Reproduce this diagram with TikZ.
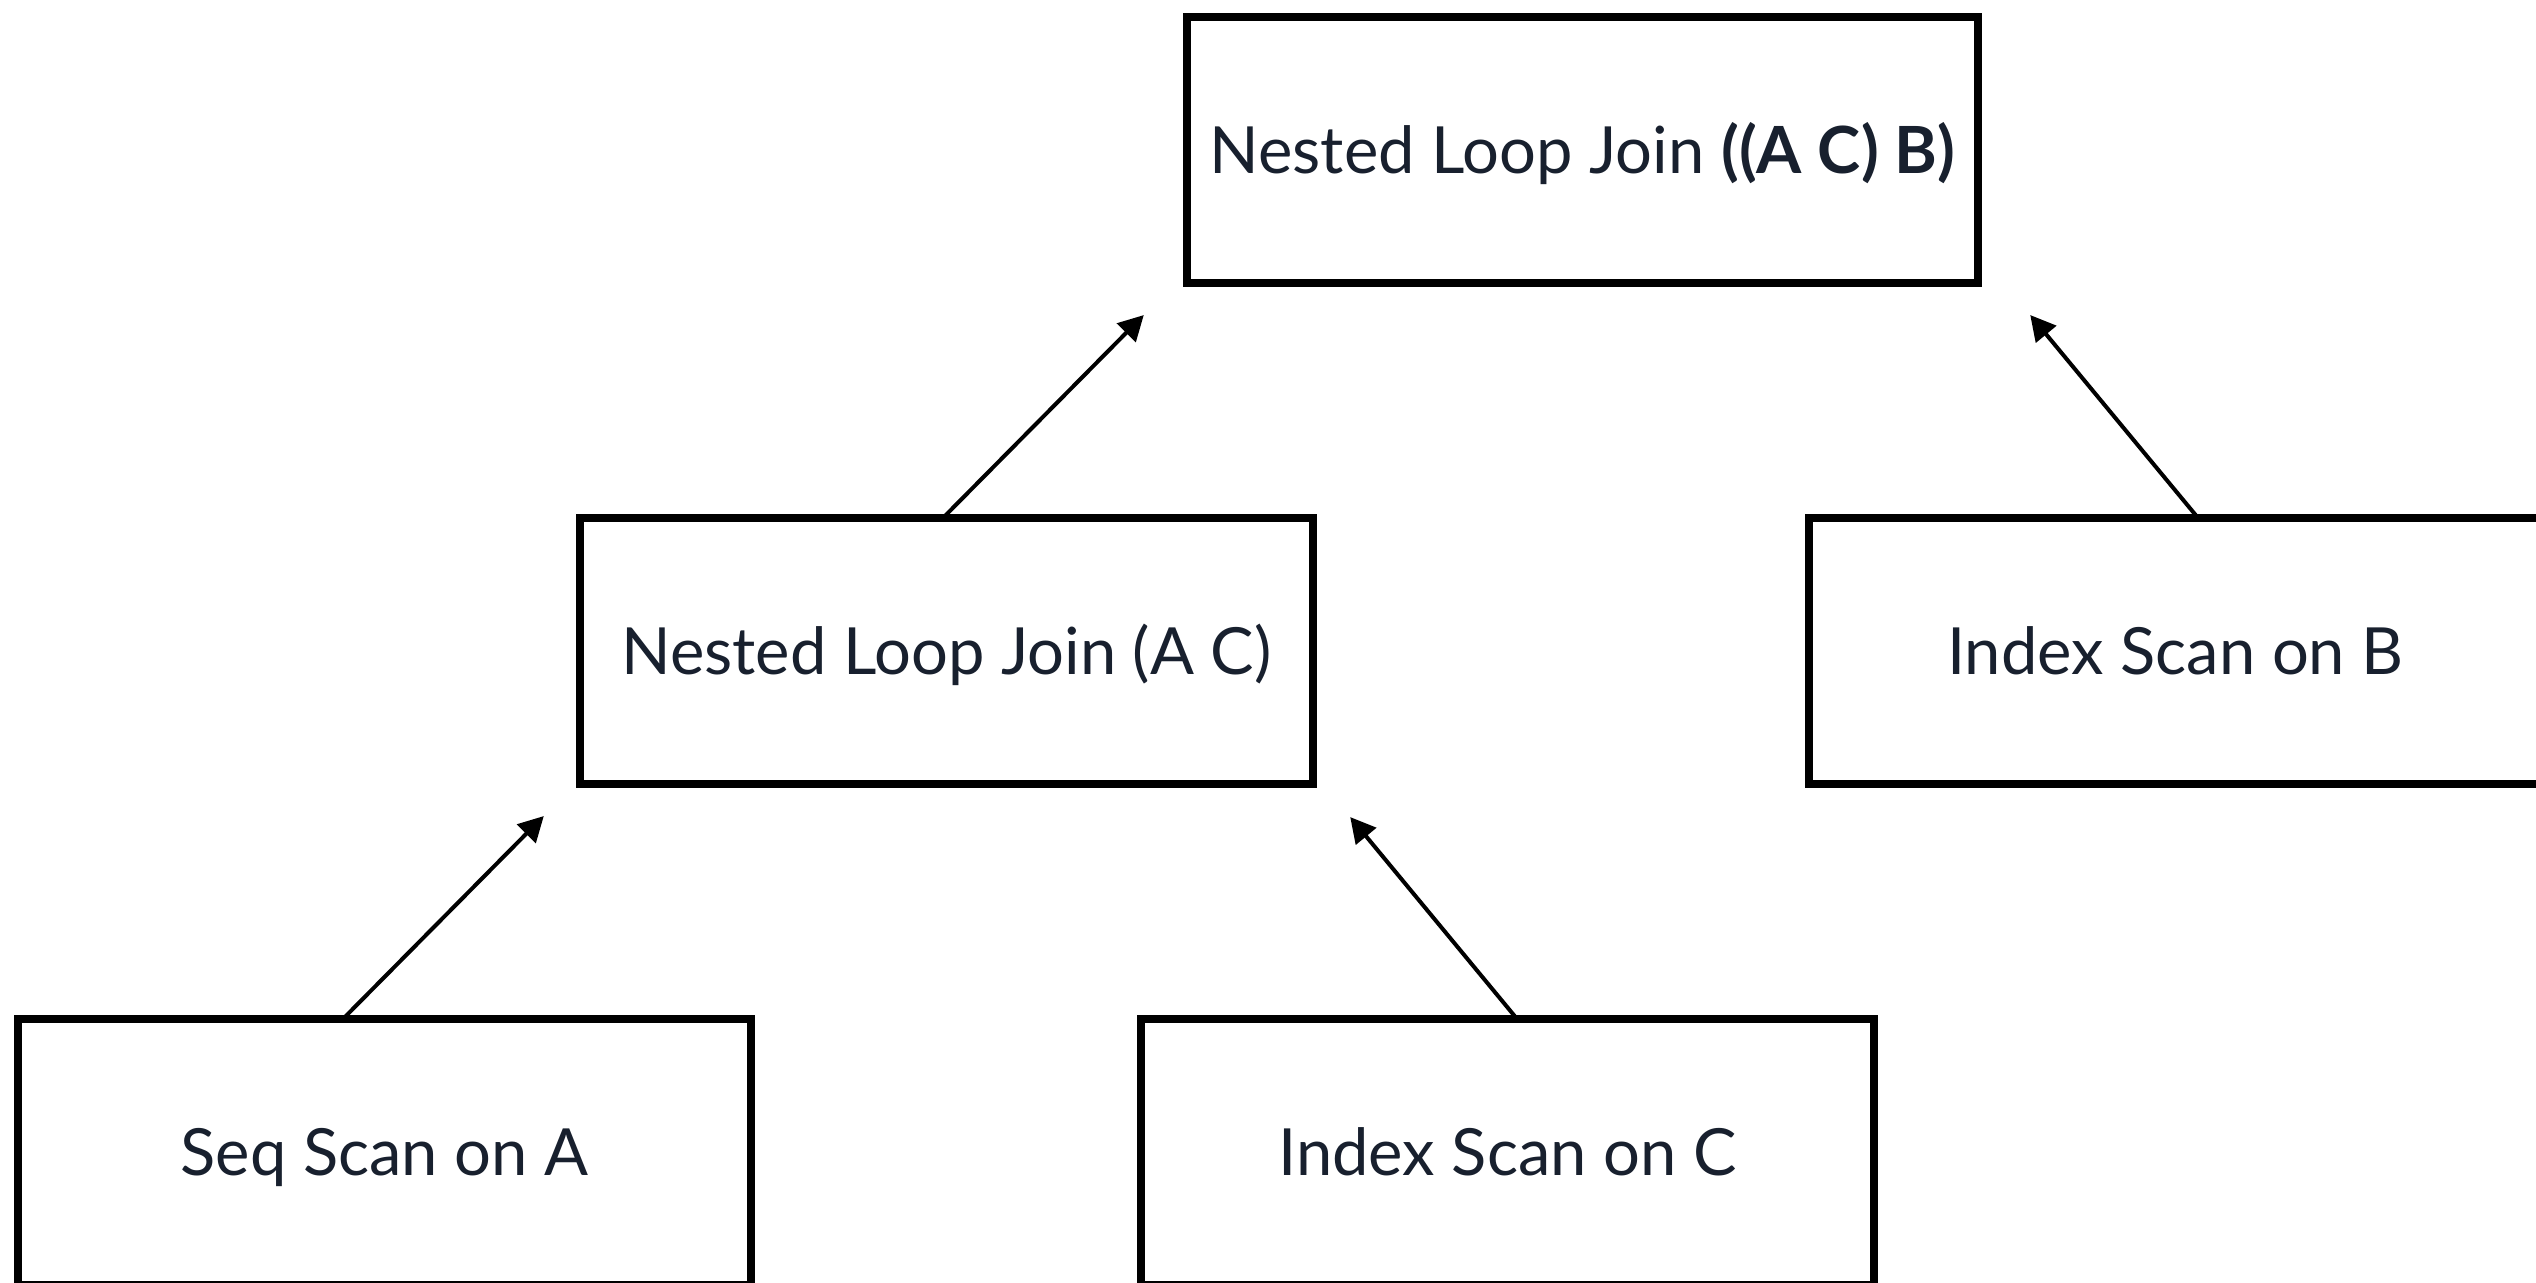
\documentclass[tikz,border=0pt]{standalone}
\usepackage{fontspec}
\setmainfont{Lato}
\usetikzlibrary{arrows.meta, calc}
\definecolor{planInk}{HTML}{18202E}

\tikzset{
  planbox/.style = {draw = black, rectangle, line width = 0.08cm, inner sep = 0, outer sep = 0,
                    minimum width = 7.33cm, minimum height = 2.66cm,
                    text height = 13.2pt, text depth = 0pt,
                    text = planInk, font = \fontsize{18.5}{22}\selectfont},
  feeds/.style = {line width = 0.04cm, -{Triangle[length = 0.25cm, width = 0.26cm]}},
}

\begin{document}
\begin{tikzpicture}[x = 0.01cm, y = -0.01cm]
  % one unit is one pixel, y grows downwards
  \useasboundingbox (0, 0) rectangle (2536, 1283);
  \clip (0, 0) rectangle (2536, 1283);
  \fill[white] (0, 0) rectangle (2536, 1283);

  % ------------------------
  % plan nodes
  % ------------------------

  \node[planbox, minimum width = 7.91cm] (joinACB) at (1582.5, 150) {Nested Loop Join \textbf{((A C) B)}};

  \node[planbox] (joinAC) at (946.5, 651) {Nested Loop Join (A C)};
  \node[planbox] (scanB) at (2175.5, 651) {Index Scan on B};

  \node[planbox] (scanA) at (384.5, 1152) {Seq Scan on A};
  \node[planbox] (scanC) at (1507.5, 1152) {Index Scan on C};

  % ------------------------
  % child to parent edges
  % ------------------------

  \draw[feeds] ($(scanA.north) + (-41.5, 0)$) to ($(joinAC.south west) + (-36, 32)$);
  \draw[feeds] ($(scanC.north) + (9.5, 0)$) to ($(joinAC.south east) + (37, 33)$);
  \draw[feeds] ($(joinAC.north) + (-3.5, 0)$) to ($(joinACB.south west) + (-43, 32)$);
  \draw[feeds] ($(scanB.north) + (22.5, 0)$) to ($(joinACB.south east) + (52, 32)$);
\end{tikzpicture}
\end{document}
